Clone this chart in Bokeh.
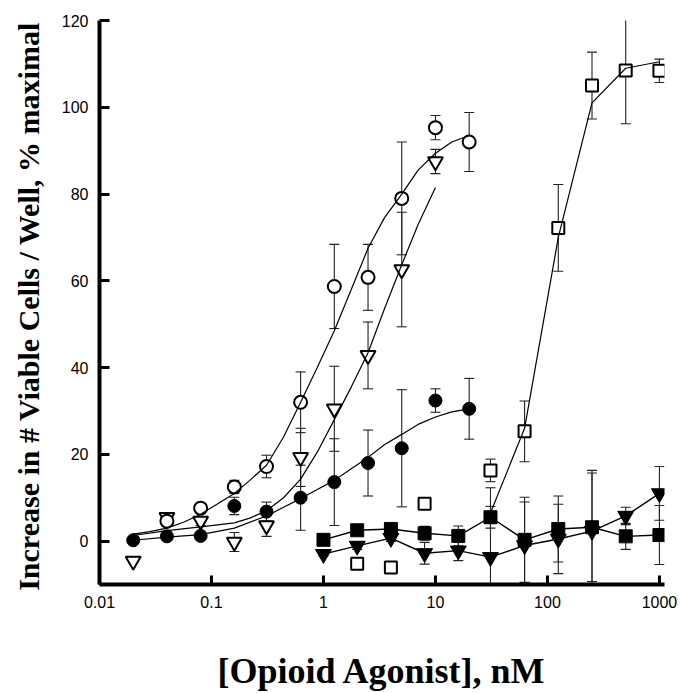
from bokeh.plotting import figure
from bokeh.models import FixedTicker
from bokeh.embed import file_html
from bokeh.resources import INLINE

# ---------------- data (concentration in nM, response in % maximal) ----------------
# open circles
oc_x = [0.04, 0.08, 0.16, 0.31, 0.625, 1.25, 2.5, 5, 10, 20]
oc_y = [4.6, 7.6, 12.5, 17.2, 32.0, 58.7, 60.8, 79.0, 95.3, 92.0]
oc_e = [0.8, 1.0, 1.5, 2.6, 7.0, 9.7, 7.6, 13.0, 2.8, 6.8]

# open inverted triangles
ot_x = [0.02, 0.04, 0.08, 0.16, 0.31, 0.625, 1.25, 2.5, 5, 10]
ot_y = [-4.6, 5.5, 4.6, -0.2, 3.6, 19.3, 30.5, 42.8, 62.6, 87.5]
ot_e = [0.0, 0.8, 1.0, 2.2, 2.5, 6.7, 9.8, 7.7, 13.2, 2.8]

# filled circles
fc_x = [0.02, 0.04, 0.08, 0.16, 0.31, 0.625, 1.25, 2.5, 5, 10, 20]
fc_y = [0.2, 1.1, 1.2, 8.1, 6.8, 10.0, 13.6, 18.0, 21.4, 32.4, 30.5]
fc_e = [0.5, 0.8, 0.8, 2.0, 2.2, 7.5, 10.0, 7.6, 13.5, 2.7, 7.0]

# open squares
os_x = [2, 4, 8, 31, 62.5, 125, 250, 500, 1000]
os_y = [-5.2, -6.1, 8.6, 16.3, 25.3, 72.2, 105.0, 108.5, 108.4]
os_e = [0.0, 0.0, 0.0, 2.6, 7.0, 10.0, 7.7, 12.3, 2.7]

# filled squares
fs_x = [1, 2, 4, 8, 16, 31, 62.5, 125, 250, 500, 1000]
fs_y = [0.3, 2.5, 2.8, 1.8, 1.2, 5.5, 0.3, 2.8, 3.2, 1.1, 1.4]
fs_e = [0.5, 0.8, 0.8, 1.6, 2.3, 2.5, 9.8, 7.6, 12.5, 3.0, 6.8]

# filled inverted triangles
ft_x = [1, 2, 4, 8, 16, 31, 62.5, 125, 250, 500, 1000]
ft_y = [-3.0, -1.1, 0.7, -2.8, -2.2, -3.7, -1.0, 0.5, 2.3, 5.8, 11.0]
ft_e = [0.5, 0.8, 0.8, 2.5, 2.3, 16.0, 10.0, 8.0, 14.0, 2.0, 6.2]

# fitted dose-response curves
fit_oc_x = [0.02, 0.028, 0.04, 0.057, 0.08, 0.11, 0.16, 0.22, 0.31, 0.44, 0.625,
            0.88, 1.25, 1.77, 2.5, 3.5, 5, 7, 10, 14, 20]
fit_oc_y = [1.6, 2.2, 3.0, 4.4, 6.2, 8.4, 11.0, 14.0, 17.5, 24.0, 32.0,
            40.0, 48.5, 58.0, 67.5, 74.5, 80.0, 85.5, 89.4, 92.0, 93.5]

fit_ot_x = [0.02, 0.04, 0.08, 0.16, 0.22, 0.31, 0.44, 0.625, 0.88, 1.25, 1.77,
            2.5, 3.5, 5, 7, 10]
fit_ot_y = [1.3, 2.4, 3.3, 4.2, 5.3, 7.0, 10.0, 14.3, 20.5, 28.0, 35.5,
            43.4, 53.5, 63.7, 73.0, 81.5]

fit_fc_x = [0.02, 0.04, 0.08, 0.16, 0.31, 0.44, 0.625, 0.88, 1.25, 1.77, 2.5,
            3.5, 5, 7, 10, 14, 20]
fit_fc_y = [0.2, 0.9, 1.5, 3.0, 5.8, 7.8, 9.8, 11.9, 14.0, 16.7, 19.3,
            22.2, 24.6, 26.9, 28.6, 29.8, 30.5]

fit_os_x = [31, 62.5, 125, 250, 500, 1000]
fit_os_y = [6.5, 26.0, 70.0, 101.0, 109.0, 110.5]

x_ticks = [0.01, 0.1, 1, 10, 100, 1000]
x_tick_labels = ["0.01", "0.1", "1", "10", "100", "1000"]
y_ticks = [0, 20, 40, 60, 80, 100, 120]

# ---------------- figure ----------------
INK = "black"
BAR = "#222222"

# x range runs a touch past 1000 so the last symbols and caps are not cut off
p = figure(width=681, height=693, x_axis_type="log",
           x_range=(0.01, 1110), y_range=(-10, 120),
           output_backend="svg", toolbar_location=None,
           min_border_left=99, min_border_right=17,
           min_border_top=20, min_border_bottom=108)
p.outline_line_color = None
p.grid.visible = False
p.background_fill_color = "white"
p.border_fill_color = "white"

for ax in (p.xaxis[0], p.yaxis[0]):
    ax.axis_line_width = 4
    ax.axis_line_color = INK
    ax.major_tick_line_width = 3
    ax.major_tick_line_color = INK
    ax.major_tick_out = 0
    ax.minor_tick_line_color = None
    ax.major_label_text_font = "Liberation Sans"
    ax.major_label_text_font_size = "16px"
    ax.major_label_text_color = INK
    ax.major_label_standoff = 11
    ax.axis_label_text_color = INK
    ax.axis_label_text_font = "Liberation Serif"
    ax.axis_label_text_font_style = "bold"

p.xaxis.ticker = FixedTicker(ticks=x_ticks)
p.xaxis.major_label_overrides = {t: s for t, s in zip(x_ticks, x_tick_labels)}
p.xaxis.major_tick_in = 9
p.xaxis.axis_label = "[Opioid Agonist], nM"
p.xaxis.axis_label_text_font_size = "36px"
p.xaxis.axis_label_standoff = 40

p.yaxis.ticker = FixedTicker(ticks=y_ticks)
p.yaxis.major_tick_in = 10
p.yaxis.axis_label = "Increase in #  Viable Cells / Well, % maximal"
p.yaxis.axis_label_text_font_size = "30px"
p.yaxis.axis_label_standoff = 14


def error_bars(xs, ys, errs):
    keep = [(x, y, e) for x, y, e in zip(xs, ys, errs) if e > 0]
    bx = [k[0] for k in keep]
    lo = [k[1] - k[2] for k in keep]
    hi = [k[1] + k[2] for k in keep]
    p.segment(x0=bx, y0=lo, x1=bx, y1=hi, line_color=BAR, line_width=1.1)
    p.scatter(x=bx + bx, y=lo + hi, marker="dash", size=10,
              line_color=BAR, line_width=1.1)


for xs, ys, es in [(oc_x, oc_y, oc_e), (ot_x, ot_y, ot_e), (fc_x, fc_y, fc_e),
                   (os_x, os_y, os_e), (fs_x, fs_y, fs_e), (ft_x, ft_y, ft_e)]:
    error_bars(xs, ys, es)

# open symbols
p.scatter(ot_x, ot_y, marker="inverted_triangle", size=15,
          fill_color="white", line_color=INK, line_width=2)
p.scatter(oc_x, oc_y, marker="circle", size=13,
          fill_color="white", line_color=INK, line_width=2)
p.scatter(os_x, os_y, marker="square", size=12,
          fill_color="white", line_color=INK, line_width=2)

# fitted curves
p.line(fit_oc_x, fit_oc_y, line_color=INK, line_width=1.2)
p.line(fit_ot_x, fit_ot_y, line_color=INK, line_width=1.2)
p.line(fit_fc_x, fit_fc_y, line_color=INK, line_width=1.2)
p.line(fit_os_x, fit_os_y, line_color=INK, line_width=1.2)

# inactive agonists joined point to point
p.line(fs_x, fs_y, line_color=INK, line_width=1.4)
p.line(ft_x, ft_y, line_color=INK, line_width=1.4)

# filled symbols
p.scatter(fc_x, fc_y, marker="circle", size=13, fill_color=INK, line_color=INK)
p.scatter(fs_x, fs_y, marker="square", size=13, fill_color=INK, line_color=INK)
p.scatter(ft_x, ft_y, marker="inverted_triangle", size=16,
          fill_color=INK, line_color=INK)

open("out.html", "w").write(file_html(p, INLINE))
